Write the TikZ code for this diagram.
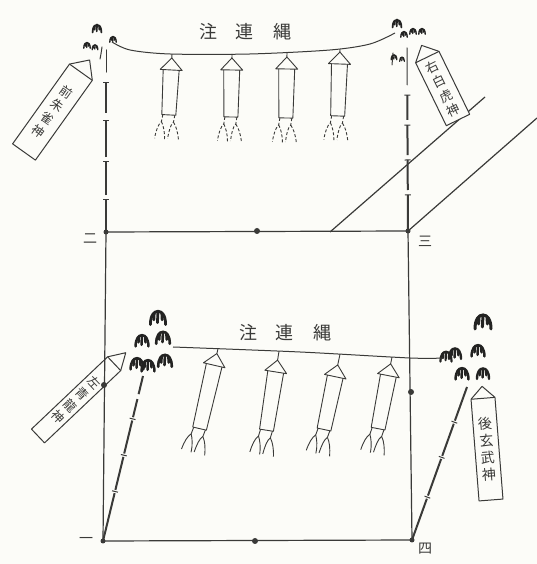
\documentclass[tikz,border=0pt]{standalone}
\usepackage{fontspec}
\newfontfamily\jp{Noto Sans CJK JP}
\usetikzlibrary{calc}
\definecolor{ink}{RGB}{58,58,56}
\definecolor{paper}{RGB}{252,252,248}

\tikzset{
  frame/.style={draw=ink, line width=1.2pt},
  dot/.style={circle, fill=ink, inner sep=0pt, minimum size=6pt},
  corner/.style={circle, fill=ink, inner sep=0pt, minimum size=5pt},
  pole/.style={draw=ink, line width=2pt},
  polestem/.style={draw=ink, line width=1pt, line cap=round},
  polenotch/.style={draw=ink, line width=1pt},
  rope/.style={draw=ink, line width=1pt},
  paperline/.style={draw=ink, line width=0.9pt, line join=round},
  topfringe/.style={dash pattern=on 3pt off 2pt},
  lowfringe/.style={},
  board/.style={draw=ink, line width=1pt, fill=paper, line join=round},
  boardtext/.style={text=ink, align=center, inner sep=0pt, transform shape},
  numeral/.style={font=\jp\fontsize{14}{14}\selectfont, text=ink, inner sep=0pt},
  title/.style={font=\jp\fontsize{18}{18}\selectfont, text=ink, inner sep=0pt},
  leafstroke/.style={draw=ink!60!black, line width=1.8pt, line cap=round},
  leafw/.style={leafstroke/.style={draw=ink!60!black, line width=#1, line cap=round}},
  leaf/.pic={
    \draw[leafstroke] (-4,-4) .. controls (-4,1) and (-2,3) .. (0,3)
                      .. controls (2,3) and (4,1) .. (4,-4);
    \draw[leafstroke] (0,3) -- (-0.3,-3);
    \draw[leafstroke] (-2,2.2) -- (-2.2,-1.5);
    \draw[leafstroke] (2,2.2) -- (2.2,-1.5);
  },
}

% hanging paper streamer: #1 hang point, #2 tilt, #3 string, #4 body length, #5 fringe style
\newcommand{\shide}[5]{%
  \begin{scope}[shift={(#1)}, rotate=#2]
    \pgfmathsetmacro{\ta}{-#3}
    \pgfmathsetmacro{\tb}{-#3-12}
    \pgfmathsetmacro{\tc}{-#3-12-#4}
    \draw[paperline] (0,0) -- (0,\ta);
    \draw[paperline] (0,\ta) -- (-11,\tb) -- (11,\tb) -- cycle;
    \draw[paperline] (-8,\tb) -- (-7,\tc) -- (7,\tc) -- (8,\tb);
    \begin{scope}[shift={(0,\tc)}]
      \draw[paperline, #5] (-6,0) -- (-7,-7) .. controls (-10,-10) and (-12,-16) .. (-13,-24);
      \draw[paperline, #5] (-7,-7) .. controls (-5,-11) and (-3,-17) .. (-3,-25);
      \draw[paperline, #5] (6,0) -- (5,-7) .. controls (2,-10) and (1,-16) .. (0,-24);
      \draw[paperline, #5] (5,-7) .. controls (8,-11) and (10,-17) .. (11,-25);
    \end{scope}
  \end{scope}}

% god tablet: #1 foot, #2 rotation, #3 length, #4 width, #5 point, #6 font, #7 text
\newcommand{\tablet}[7]{%
  \begin{scope}[shift={(#1)}, rotate=#2]
    \pgfmathsetmacro{\hw}{#4/2}
    \draw[board] (-\hw,0) -- (-\hw,#3) -- (0,#3+#5) -- (\hw,#3) -- (\hw,0) -- cycle;
    \draw[board] (-\hw,#3) -- (\hw,#3);
    \node[boardtext, font=#6] at (0,#3/2) {#7};
  \end{scope}}

% bamboo pole: #1 foot, #2 top, #3 pieces s/e, #4 notch positions
\newcommand{\bamboo}[4]{%
  \foreach \s/\e in {#3} {
    \draw[pole] ($(#1)!\s!(#2)$) -- ($(#1)!\e!(#2)$);
  }
  \foreach \n in {#4} {
    \path ($(#1)!\n!(#2)$) coordinate (nk);
    \draw[polenotch] ($(nk)!3pt!90:(#2)$) -- ($(nk)!3pt!-90:(#2)$);
  }}

\begin{document}
\begin{tikzpicture}[x=1pt,y=1pt]
  \fill[paper] (0,0) rectangle (537,564);
  \useasboundingbox (0,0) rectangle (537,564);

  % corners of the enclosure
  \node[corner] (TL) at (106,332) {};
  \node[corner] (TR) at (408,333) {};
  \node[corner] (BL) at (103,23) {};
  \node[corner] (BR) at (412,24) {};

  % boundary lines to the upper right
  \coordinate (d1) at (330,332);
  \coordinate (d1e) at (485,467);
  \coordinate (d2e) at (537,446);
  \draw[frame] (d1) -- (d1e);
  \draw[frame] (TR.center) -- (d2e);

  % tablets of the four gods
  \tablet{24,412}{-35.5}{98}{28}{15}{\jp\fontsize{12.5}{16}\selectfont}{前\\朱\\雀\\神}
  \tablet{458,444}{26}{70}{26}{13}{\jp\fontsize{13}{16}\selectfont}{右\\白\\虎\\神}
  \tablet{38,128}{-46.5}{105}{19}{16}{\jp\fontsize{12.5}{16.5}\selectfont}{左\\青\\龍\\神}
  \tablet{491,64}{4.5}{102}{24}{12}{\jp\fontsize{14}{17}\selectfont}{後\\玄\\武\\神}

  % enclosure
  \draw[frame] (TL.center) -- (TR.center);
  \draw[frame] (TR.center) -- (BR.center);
  \draw[frame] (BR.center) -- (BL.center);
  \draw[frame] (BL.center) -- (TL.center);
  \node[dot] (tm) at (257,333) {};
  \node[dot] (bm) at (255,23) {};
  \node[dot] (lm) at (104,179) {};
  \node[dot] (rm) at (411,172) {};

  % numbered corners
  \node[numeral] (n1) at (86,24) {一};
  \node[numeral] (n2) at (90,325) {二};
  \node[numeral] (n3) at (425,323) {三};
  \node[numeral] (n4) at (425,15) {四};

  % bamboo poles
  \coordinate (pTL) at (106,514);
  \coordinate (pTR) at (407,516);
  \coordinate (pBL) at (143,188);
  \coordinate (pBR) at (467,177);
  \bamboo{TL}{pTL}{0/0.176, 0.203/0.385, 0.412/0.615, 0.654/0.824}{0.176,0.385,0.615,0.824}
  \bamboo{TR}{pTR}{0/0.197, 0.224/0.388, 0.415/0.579, 0.607/0.743}{0.197,0.388,0.579,0.743}
  \bamboo{BL}{pBL}{0/0.29, 0.31/0.51, 0.53/0.73, 0.75/0.86, 0.89/1}{0.30,0.52,0.74}
  \bamboo{BR}{pBR}{0/0.27, 0.29/0.53, 0.55/0.76, 0.78/1}{0.28,0.54,0.77}
  \draw[polestem] ($(TL)!0.879!(pTL)$) -- (pTL);
  \draw[polestem] (100,505) .. controls (101,510) .. (102,517);
  \draw[polestem] ($(TR)!0.798!(pTR)$) -- (pTR);
  \draw[polestem] (392,499) -- (393,511);

  % bamboo leaves
  \foreach \x/\y/\s/\w in {97/536/1.1/1.8pt, 87/519/0.8/1.4pt, 95/517/0.7/1.3pt, 113/525/0.8/1.4pt,
                        397/541/1.1/1.8pt, 404/530/0.8/1.4pt, 413/533/0.8/1.4pt, 422/533/0.8/1.4pt, 394/507/0.7/1.3pt, 402/505/0.6/1.2pt,
                        158/247/1.9/2.8pt, 142/224/1.6/2.5pt, 163/227/1.7/2.6pt, 137/201/1.6/2.5pt, 148/199/1.6/2.5pt, 165/204/1.7/2.6pt,
                        483/243/2.0/3pt, 478/214/1.6/2.5pt, 455/211/1.5/2.4pt, 446/208/1.4/2.2pt, 462/191/1.6/2.5pt, 483/191/1.5/2.4pt}
    \pic[scale=\s, leafw=\w] at (\x,\y) {leaf};

  % upper sacred rope
  \draw[rope] plot[smooth] coordinates {(112,522) (130,514) (170,510) (250,510) (330,514) (370,520) (395,531)};
  \node[title] (t1) at (245,532) {注\hspace{19pt}連\hspace{19pt}縄};
  \shide{172,510}{-3}{4}{45}{topfringe}
  \shide{232,510}{-1}{4}{47}{topfringe}
  \shide{287,512}{-1}{5}{49}{topfringe}
  \shide{340,515}{-2}{3}{52}{topfringe}

  % lower sacred rope
  \draw[rope] plot[smooth] coordinates {(173,217) (300,212) (410,206) (443,206)};
  \node[title] (t2) at (285,231) {注\hspace{19pt}連\hspace{19pt}縄};
  \shide{218,215.3}{-13}{5}{65}{lowfringe}
  \shide{279,212.8}{-9}{9}{59}{lowfringe}
  \shide{340,209.8}{-12}{11}{54}{lowfringe}
  \shide{392,207}{-11}{7}{54}{lowfringe}
\end{tikzpicture}
\end{document}
